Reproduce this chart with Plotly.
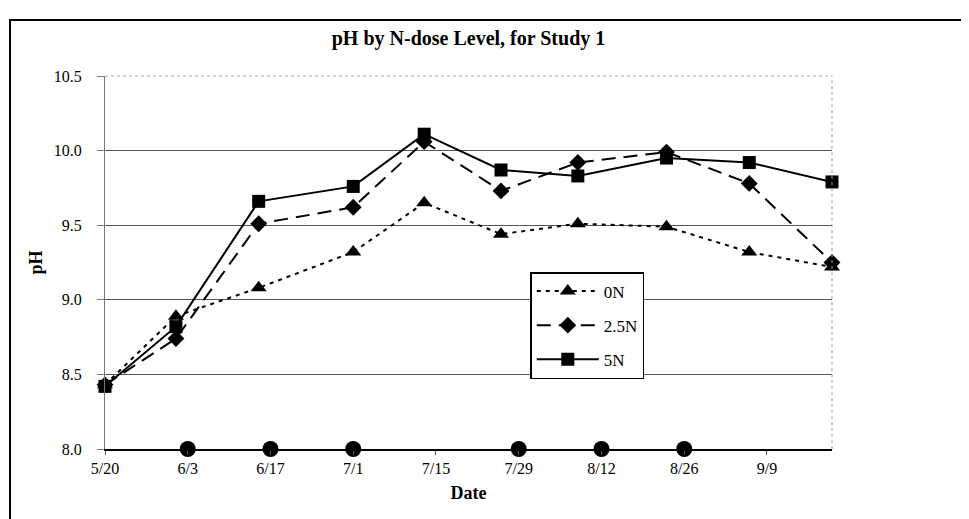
import plotly.graph_objects as go

# Sampling dates and pH values per N-dose level
sample_dates = ["2001-05-20", "2001-06-01", "2001-06-15", "2001-07-01", "2001-07-13",
                "2001-07-26", "2001-08-08", "2001-08-23", "2001-09-06", "2001-09-20"]
ph_0N = [8.43, 8.89, 9.08, 9.32, 9.65, 9.44, 9.51, 9.49, 9.32, 9.22]
ph_25N = [8.43, 8.74, 9.51, 9.62, 10.06, 9.73, 9.92, 9.99, 9.78, 9.25]
ph_5N = [8.42, 8.82, 9.66, 9.76, 10.11, 9.87, 9.83, 9.95, 9.92, 9.79]

# Marker dots along the bottom axis
dot_dates = ["2001-06-03", "2001-06-17", "2001-07-01", "2001-07-29", "2001-08-12", "2001-08-26"]
dot_values = [8.0, 8.0, 8.0, 8.0, 8.0, 8.0]

y_ticks = [8.0, 8.5, 9.0, 9.5, 10.0, 10.5]
y_tick_labels = ["8.0", "8.5", "9.0", "9.5", "10.0", "10.5"]
grid_values = [8.5, 9.0, 9.5, 10.0]

SERIF = "Liberation Serif, Times New Roman, serif"

# page has an 8px body margin; figure is sized to fill the remaining window
W, H, OFF = 961, 511, 8

fig = go.Figure()

# base subplot (y): carries the inner gridlines and the dots on the axis
fig.add_trace(go.Scatter(
    x=dot_dates, y=dot_values, mode="markers", showlegend=False, yaxis="y",
    marker=dict(symbol="circle", size=16, color="black"),
    cliponaxis=False))

# overlaid subplot (y2): the three series, drawn above the gridlines
fig.add_trace(go.Scatter(
    x=sample_dates, y=ph_0N, name="0N", mode="lines+markers", legendgroup="a", yaxis="y2",
    line=dict(color="black", width=2, dash="4px,5px"),
    marker=dict(symbol="triangle-up", size=14, color="black"),
    cliponaxis=False))
fig.add_trace(go.Scatter(
    x=sample_dates, y=ph_25N, name="2.5N", mode="lines+markers", legendgroup="b", yaxis="y2",
    line=dict(color="black", width=2, dash="14px,8px"),
    marker=dict(symbol="diamond", size=13, color="black"),
    cliponaxis=False))
fig.add_trace(go.Scatter(
    x=sample_dates, y=ph_5N, name="5N", mode="lines+markers", legendgroup="c", yaxis="y2",
    line=dict(color="black", width=2),
    marker=dict(symbol="square", size=13, color="black"),
    cliponaxis=False))

fig.update_layout(
    width=W, height=H,
    margin=dict(l=105 - OFF, r=137, t=76 - OFF, b=70, autoexpand=False),
    paper_bgcolor="white", plot_bgcolor="white",
    font=dict(family=SERIF, color="black", size=15),
    title=dict(text="<b>pH by N-dose Level, for Study 1</b>",
               x=((105 + 832) / 2 - OFF) / W,
               xanchor="center", y=1 - (38 - OFF) / H, yanchor="middle",
               font=dict(size=20, family=SERIF)),
    legend=dict(x=0.585, y=0.4745, xanchor="left", yanchor="top",
                bordercolor="black", borderwidth=1.5, bgcolor="white",
                font=dict(size=17, family=SERIF), tracegroupgap=9, itemwidth=62),
    showlegend=True,
    yaxis=dict(range=[8.0, 10.5], tickvals=grid_values, showticklabels=False, ticks="",
               showgrid=True, gridcolor="#555", gridwidth=1, zeroline=False,
               showline=False, automargin=False),
    yaxis2=dict(
        overlaying="y", matches="y", side="left", anchor="x",
        tickvals=y_ticks, ticktext=y_tick_labels, automargin=False,
        showline=True, linecolor="#777", linewidth=1,
        ticks="outside", ticklen=7, tickcolor="#777", ticklabelstandoff=12,
        showgrid=False, zeroline=False,
        tickfont=dict(size=16, family=SERIF),
        title=dict(text="<b>pH</b>", font=dict(size=18, family=SERIF), standoff=6)),
)

fig.update_xaxes(
    type="date", range=["2001-05-20", "2001-09-20"], automargin=False,
    tick0="2001-05-20", dtick=14 * 86400000, tickformat="%-m/%-d",
    showline=True, linecolor="black", linewidth=1.5,
    ticks="outside", ticklen=4, tickcolor="#555",
    showgrid=False, zeroline=False,
    tickfont=dict(size=16, family=SERIF),
    title=dict(text="<b>Date</b>", font=dict(size=18, family=SERIF), standoff=10),
)

# dotted top and right borders of the plot area, and outer chart frame
fig.add_shape(type="line", xref="paper", yref="paper", x0=1, x1=1, y0=0, y1=1,
              line=dict(color="#999", width=1, dash="dot"))
fig.add_shape(type="line", xref="paper", yref="paper", x0=0, x1=1, y0=1, y1=1,
              line=dict(color="#aaa", width=1, dash="dot"))
fig.add_shape(type="rect", xref="paper", yref="paper",
              x0=(10 - 105) / 727, x1=(965 - 105) / 727,
              y0=(449 - 540) / 373, y1=(449 - 20) / 373,
              line=dict(color="black", width=2), fillcolor="rgba(0,0,0,0)", layer="below")

fig.write_html("out.html")
